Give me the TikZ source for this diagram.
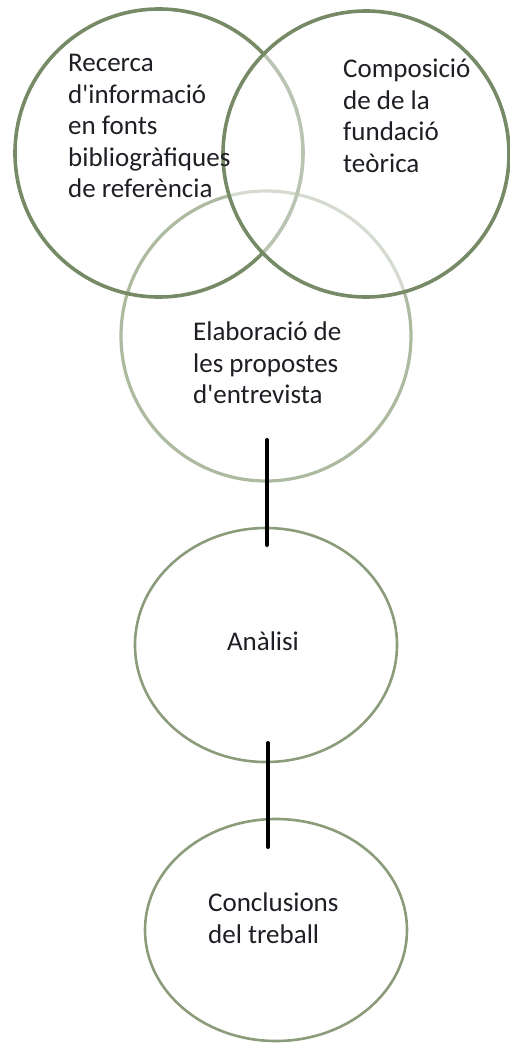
\documentclass[tikz,border=0pt]{standalone}
\usepackage{fontspec}
\setmainfont{Carlito}
\usetikzlibrary{shapes.geometric}
\definecolor{ringdark}{RGB}{118,138,102}
\definecolor{ringlight}{RGB}{172,186,160}
\definecolor{ringmid}{RGB}{138,156,122}
\definecolor{inktext}{RGB}{30,30,36}
\newcommand{\apos}{\XeTeXglyph\XeTeXcharglyph"27\relax}
\tikzset{
  ring/.style={circle,draw=ringdark,line width=3.6pt,inner sep=0pt,outer sep=0pt},
  lightring/.style={circle,draw=ringlight,line width=3.2pt,inner sep=0pt,outer sep=0pt},
  oval/.style={ellipse,draw=ringmid,line width=2.6pt,inner sep=0pt,outer sep=0pt},
  lbl/.style={text=inktext,font=\fontsize{27}{31.5}\selectfont,align=left,inner sep=0pt,anchor=north west},
  link/.style={draw=black,line width=4pt,line cap=round}
}
\begin{document}
\begin{tikzpicture}[x=1pt,y=-1pt]
\useasboundingbox (0,0) rectangle (509,1048);
% circles
\node[lightring,minimum size=290pt] (c3) at (266,336) {};
\node[ring,minimum size=288pt] (c1) at (159,153) {};
\node[ring,minimum size=286pt,fill=white,fill opacity=0.5] (c2) at (366,154) {};
\node[oval,minimum width=262pt,minimum height=234pt] (c4) at (266,645) {};
\node[oval,minimum width=262pt,minimum height=222pt] (c5) at (276,930) {};
% texts
\node[lbl] (t1) at (68,54) {Recerca\\d\apos informació\\en fonts\\bibliogràfiques\\de referència};
\node[lbl] (t2) at (343,59) {Composició\\de de la\\fundació\\teòrica};
\node[lbl] (t3) at (193,322) {Elaboració de\\les propostes\\d\apos entrevista};
\node[text=inktext,font=\fontsize{27}{31.5}\selectfont,inner sep=0pt] (t4) at (263,641) {Anàlisi};
\node[lbl] (t5) at (208,893) {Conclusions\\del treball};
% connectors
\coordinate (a1) at (267,440);
\coordinate (b1) at (267,545);
\coordinate (a2) at (268,743);
\coordinate (b2) at (268,847);
\draw[link] (a1) -- (b1);
\draw[link] (a2) -- (b2);
\end{tikzpicture}
\end{document}
